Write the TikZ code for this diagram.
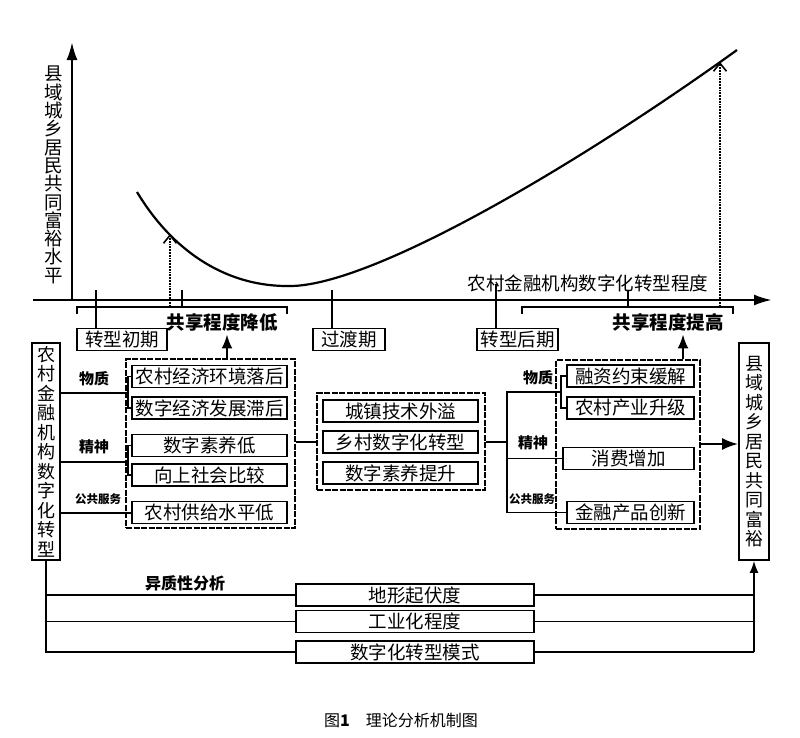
\documentclass[tikz,border=0pt]{standalone}
\usepackage{fontspec}
\setmainfont{Noto Sans CJK SC}
\usepackage{tikz}
\usetikzlibrary{arrows.meta}

\begin{document}
\begin{tikzpicture}[x=1pt,y=-1pt,
	box/.style={draw, line width=1.8pt, inner sep=0pt, minimum height=22pt, font=\fontsize{18.5}{19}\selectfont},
	vbox/.style={draw, line width=1.8pt, inner sep=0pt, align=center, font=\fontsize{18}{19.5}\selectfont},
	group/.style={draw, line width=1.6pt, dash pattern=on 6pt off 1.5pt, inner sep=0pt},
	tag/.style={font=\bfseries\fontsize{15}{17}\selectfont},
	link/.style={line width=1.5pt},
	axis/.style={line width=2.4pt, -{Latex[length=18pt,width=11pt]}}]
	\useasboundingbox (0,0) rectangle (800,737);

	% axes
	\coordinate (o) at (72,300);
	\coordinate (ytop) at (72,42);
	\coordinate (xstart) at (33,300);
	\coordinate (xend) at (772,300);
	\draw[axis] (o) -- (ytop);
	\draw[axis] (xstart) -- (xend);
	\node[align=center, font=\fontsize{18.5}{18.3}\selectfont] (ytitle) at (54,175) {县\\域\\城\\乡\\居\\民\\共\\同\\富\\裕\\水\\平};
	\node[font=\fontsize{18.5}{20}\selectfont] (xtitle) at (588,283) {农村金融机构数字化转型程度};

	% curve
	\draw[line width=2.2pt] (137,192) .. controls (175,255) and (230,287) .. (290,286) .. controls (370,286) and (570,170) .. (737,50);
	\coordinate (c1) at (170,234);
	\coordinate (c2) at (720,62);
	\draw[line width=1.8pt, densely dotted, -{Straight Barb[length=8pt,width=13pt,line width=1.6pt]}] (170,307) -- (c1);
	\draw[line width=1.8pt, densely dotted, -{Straight Barb[length=8pt,width=13pt,line width=1.6pt]}] (720,307) -- (c2);

	% periods
	\node[box, minimum width=90pt] (early) at (122,339.5) {转型初期};
	\node[box, minimum width=72pt] (mid) at (349,339.5) {过渡期};
	\node[box, minimum width=81pt] (late) at (517.5,339.5) {转型后期};
	\coordinate (t1) at (96,290);
	\coordinate (t2) at (332,290);
	\coordinate (t3) at (496,284);
	\draw[link] (t1) -- (t1 |- early.north);
	\draw[link] (t2) -- (t2 |- mid.north);
	\draw[link] (t3) -- (t3 |- late.north);

	% braces
	\draw[link] (77,314) -- (77,307) -- (287,307) -- (287,314);
	\draw[link] (182,307) -- (182,290);
	\draw[link] (522,314) -- (522,307) -- (733,307) -- (733,314);
	\draw[link] (628,307) -- (628,290);
	\node[font=\bfseries\fontsize{18.5}{20}\selectfont] (down) at (222,322) {共享程度降低};
	\node[font=\bfseries\fontsize{18.5}{20}\selectfont] (up) at (668,322) {共享程度提高};

	% left block
	\node[vbox, minimum width=28pt, minimum height=217pt] (start) at (46,451.5) {农\\村\\金\\融\\机\\构\\数\\字\\化\\转\\型};
	\node[group, minimum width=169pt, minimum height=169pt] (lgrp) at (210.5,443.5) {};
	\node[box, minimum width=155pt] (a1) at (209.5,376.5) {农村经济环境落后};
	\node[box, minimum width=155pt] (a2) at (209.5,408) {数字经济发展滞后};
	\node[box, minimum width=155pt] (a3) at (209.5,445.5) {数字素养低};
	\node[box, minimum width=155pt] (a4) at (209.5,475) {向上社会比较};
	\node[box, minimum width=155pt] (a5) at (209.5,512.5) {农村供给水平低};
	\node[tag] (lwz) at (94,379) {物质};
	\node[tag] (ljs) at (94,447) {精神};
	\node[tag, font=\bfseries\fontsize{11.5}{13}\selectfont] (lgg) at (98,499) {公共服务};
	\coordinate (lb1) at (129,393);
	\coordinate (lb2) at (129,462);
	\draw[link] (a1.west) -- ++(-3,0) |- (a2.west);
	\draw[link] (a3.west) -- ++(-3,0) |- (a4.west);
	\draw[link] (start.east |- lb1) -- (lb1);
	\draw[link] (start.east |- lb2) -- (lb2);
	\draw[line width=2pt] (start.east |- a5.west) -- (a5.west);
	\draw[line width=2.2pt, -{Latex[length=14pt,width=11pt]}] (lgrp.north -| 227,0) -- (down.south -| 227,0);

	% middle block
	\node[group, minimum width=168pt, minimum height=97pt] (mgrp) at (401,441.5) {};
	\node[box, minimum width=155pt] (m1) at (400.5,411) {城镇技术外溢};
	\node[box, minimum width=155pt] (m2) at (400.5,442) {乡村数字化转型};
	\node[box, minimum width=155pt] (m3) at (400.5,473) {数字素养提升};
	\draw[link] (lgrp.east |- m2) -- (mgrp.west |- m2);
	\coordinate (hub) at (507,442);
	\draw[link] (mgrp.east |- hub) -- (hub);

	% right block
	\node[group, minimum width=144pt, minimum height=169pt] (rgrp) at (628,444.5) {};
	\node[box, minimum width=127pt] (r1) at (630.5,376) {融资约束缓解};
	\node[box, minimum width=127pt] (r2) at (630.5,408) {农村产业升级};
	\node[box, minimum width=131pt] (r3) at (628.5,458.5) {消费增加};
	\node[box, minimum width=127pt] (r4) at (630.5,512.5) {金融产品创新};
	\node[tag] (rwz) at (538,378) {物质};
	\node[tag] (rjs) at (533,443) {精神};
	\node[tag, font=\bfseries\fontsize{11.5}{13}\selectfont] (rgg) at (532,499) {公共服务};
	\coordinate (rb1) at (562,392);
	\draw[link] (r1.west) -- ++(-5,0) |- (r2.west);
	\draw[link] (rb1) -| (hub |- r4.west) -- (r4.west);
	\draw[link] (hub |- r3.west) -- (r3.west);
	\draw[line width=2.2pt, -{Latex[length=14pt,width=11pt]}] (rgrp.north -| 683,0) -- (up.south -| 683,0);

	% goal
	\node[vbox, minimum width=30pt, minimum height=217pt] (goal) at (754,451.5) {县\\域\\城\\乡\\居\\民\\共\\同\\富\\裕};
	\draw[line width=2.2pt, -{Latex[length=16pt,width=12pt]}] (rgrp.east |- 0,444) -- (goal.west |- 0,444);

	% heterogeneity
	\node[tag, font=\bfseries\fontsize{16}{18}\selectfont] (het) at (185,583) {异质性分析};
	\node[box, minimum width=238pt] (h1) at (415,595) {地形起伏度};
	\node[box, minimum width=238pt] (h2) at (415,621.5) {工业化程度};
	\node[box, minimum width=238pt] (h3) at (415,652) {数字化转型模式};
	\coordinate (hl) at (46,652);
	\coordinate (hr) at (754,652);
	\draw[link] (start.south) -- (hl) -- (h3.west);
	\draw[link] (hl |- h1) -- (h1.west);
	\draw[link] (hl |- h2) -- (h2.west);
	\draw[link] (h1.east) -- (hr |- h1);
	\draw[link] (h2.east) -- (hr |- h2);
	\draw[link] (h3.east) -- (hr);
	\draw[link, -{Latex[length=12pt,width=9pt]}] (hr) -- (goal.south);

	% caption
	\node[font=\fontsize{16}{18}\selectfont] (cap) at (401,720) {图\textbf{1}\quad 理论分析机制图};
\end{tikzpicture}
\end{document}
